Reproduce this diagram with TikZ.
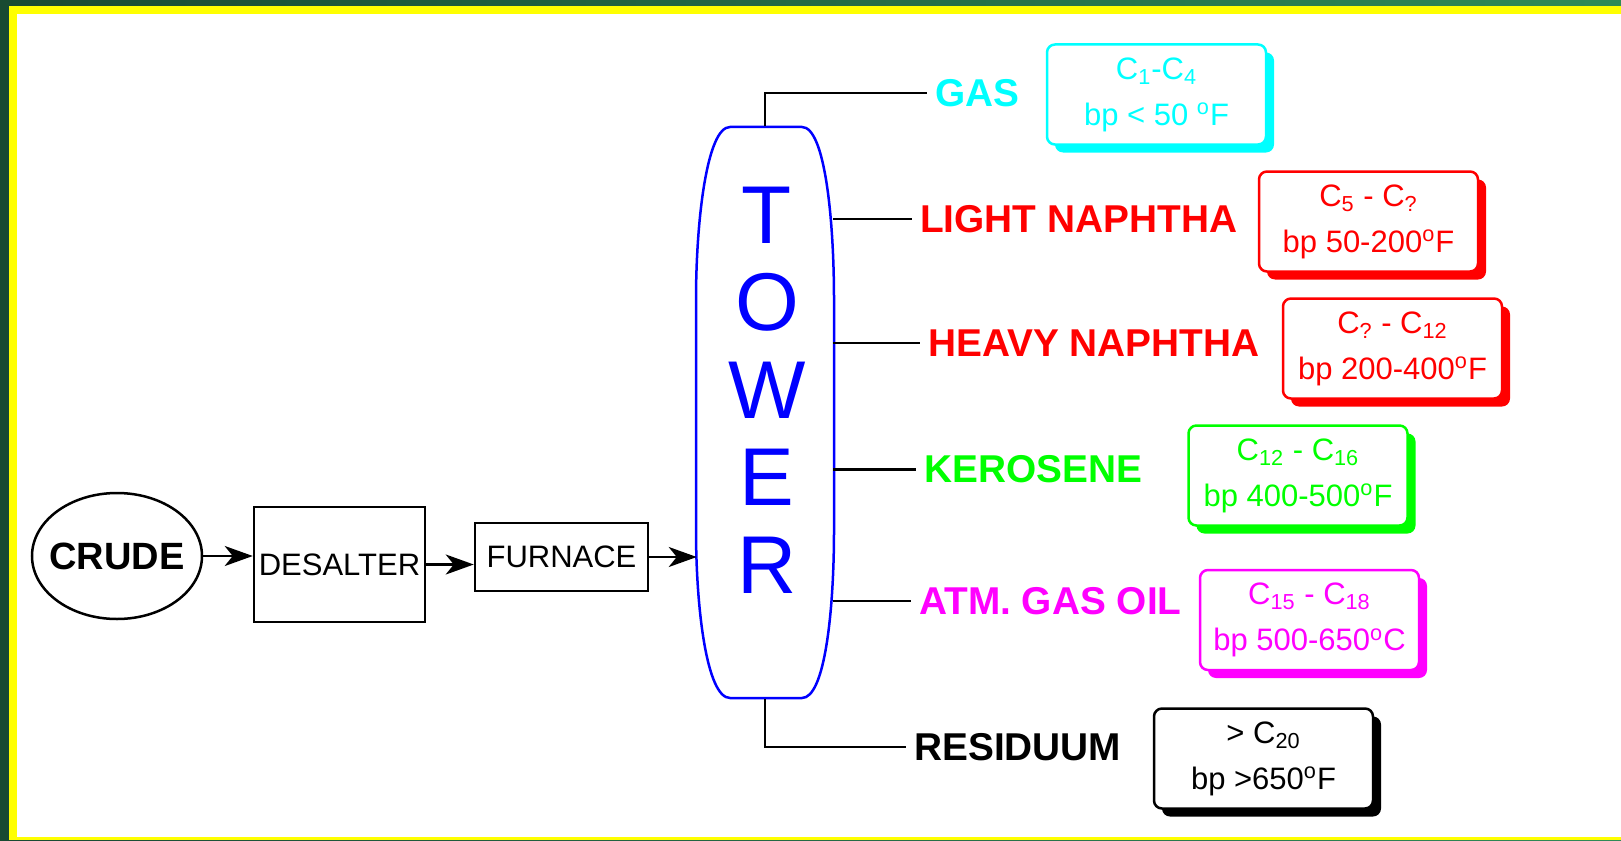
\documentclass[tikz,border=0pt]{standalone}
\usepackage{fontspec}
\setmainfont{Liberation Sans}
\usetikzlibrary{arrows.meta, shapes.geometric, shadows}
\definecolor{framedark}{RGB}{24,74,50}
\definecolor{framelight}{RGB}{46,139,87}
\definecolor{frameyellow}{RGB}{255,255,0}
\definecolor{towerblue}{RGB}{0,0,255}
\definecolor{gascyan}{RGB}{0,255,255}
\definecolor{naphred}{RGB}{255,0,0}
\definecolor{kerogreen}{RGB}{0,255,0}
\definecolor{oilmagenta}{RGB}{255,0,255}
\begin{document}
\begin{tikzpicture}[x=0.5pt, y=-0.5pt, line width=1.25pt, >={Stealth[length=14pt, width=10pt, inset=4pt]},
		unit/.style={draw, minimum width=85.5pt, minimum height=57.5pt, inner sep=0pt, font=\fontsize{15.5pt}{18pt}\selectfont},
		stream/.style={anchor=west, inner sep=3.5pt, font=\fontsize{19.4pt}{22pt}\selectfont\bfseries},
		cutbox/.style={draw=#1, text=#1, fill=white, rounded corners=4pt, minimum width=109.5pt, minimum height=50pt, align=center, inner sep=0pt, font=\fontsize{15.5pt}{23pt}\selectfont, drop shadow={shadow xshift=4pt, shadow yshift=-4pt, opacity=1, fill=#1}}]
					\useasboundingbox (0,0) rectangle (1621,840);
					\shade[left color=framedark, right color=framelight] (0,0) rectangle (1621,840);
					\fill[frameyellow] (9,6) rectangle (1621,840);
					\fill[white] (17,14) rectangle (1621,837);
					\draw[towerblue] (730,127) -- (802,127) .. controls (825,127) and (834,220) .. (834,300) -- (834,530) .. controls (834,610) and (825,698) .. (802,698) -- (730,698) .. controls (707,698) and (696,610) .. (696,530) -- (696,300) .. controls (696,220) and (707,127) .. (730,127) -- cycle;
					\node (tower) at (765,412.5) [minimum width=67pt, minimum height=285.5pt, inner sep=0pt] {};
					\node (towerlabel) at (767,390) [text=towerblue, align=center, inner sep=0pt, font=\fontsize{41pt}{43.75pt}\selectfont] {T\\O\\W\\E\\R};
					\node (crude) at (117,556) [draw, ellipse, minimum width=85pt, minimum height=63pt, inner xsep=-5pt, inner ysep=0pt, font=\fontsize{19pt}{22pt}\selectfont\bfseries] {CRUDE};
					\node (desalter) at (339.5,564.5) [unit] {DESALTER};
					\node (furnace) at (561.5,557) [unit, minimum width=86.5pt, minimum height=34pt] {FURNACE};
					\draw[->] (crude.east) -- (crude.east -| desalter.west);
					\draw[->] (desalter.east) -- (desalter.east -| furnace.west);
					\draw[->] (furnace.east) -- (furnace.east -| tower.west);
					\node (gas) at (927,93) [stream, text=gascyan] {GAS};
					\node (lnaph) at (912,219) [stream, text=naphred] {LIGHT NAPHTHA};
					\node (hnaph) at (920,343) [stream, text=naphred] {HEAVY NAPHTHA};
					\node (kero) at (916,469.5) [stream, text=kerogreen] {KEROSENE};
					\node (ago) at (911,601) [stream, text=oilmagenta] {ATM. GAS OIL};
					\node (resid) at (906,747) [stream] {RESIDUUM};
					\draw (tower.north) |- (gas.west);
					\draw (tower.east |- lnaph.west) -- (lnaph.west);
					\draw (tower.east |- hnaph.west) -- (hnaph.west);
					\draw (tower.east |- kero.west) -- (kero.west);
					\draw (tower.east |- ago.west) -- (ago.west);
					\draw (tower.south) |- (resid.west);
					\node (gasbox) at (1156.5,94.5) [cutbox=gascyan] {C\textsubscript{1}-C\textsubscript{4}\\bp < 50 \textsuperscript{o}F};
					\node (lnbox) at (1368.5,221.5) [cutbox=naphred] {C\textsubscript{5} - C\textsubscript{?}\\bp 50-200\textsuperscript{o}F};
					\node (hnbox) at (1392.5,348.5) [cutbox=naphred] {C\textsubscript{?} - C\textsubscript{12}\\bp 200-400\textsuperscript{o}F};
					\node (kerobox) at (1298,475.5) [cutbox=kerogreen] {C\textsubscript{12} - C\textsubscript{16}\\bp 400-500\textsuperscript{o}F};
					\node (agobox) at (1309.5,620) [cutbox=oilmagenta] {C\textsubscript{15} - C\textsubscript{18}\\bp 500-650\textsuperscript{o}C};
					\node (resbox) at (1263.5,758.5) [cutbox=black] {> C\textsubscript{20}\\bp >650\textsuperscript{o}F};
				\end{tikzpicture}
\end{document}
